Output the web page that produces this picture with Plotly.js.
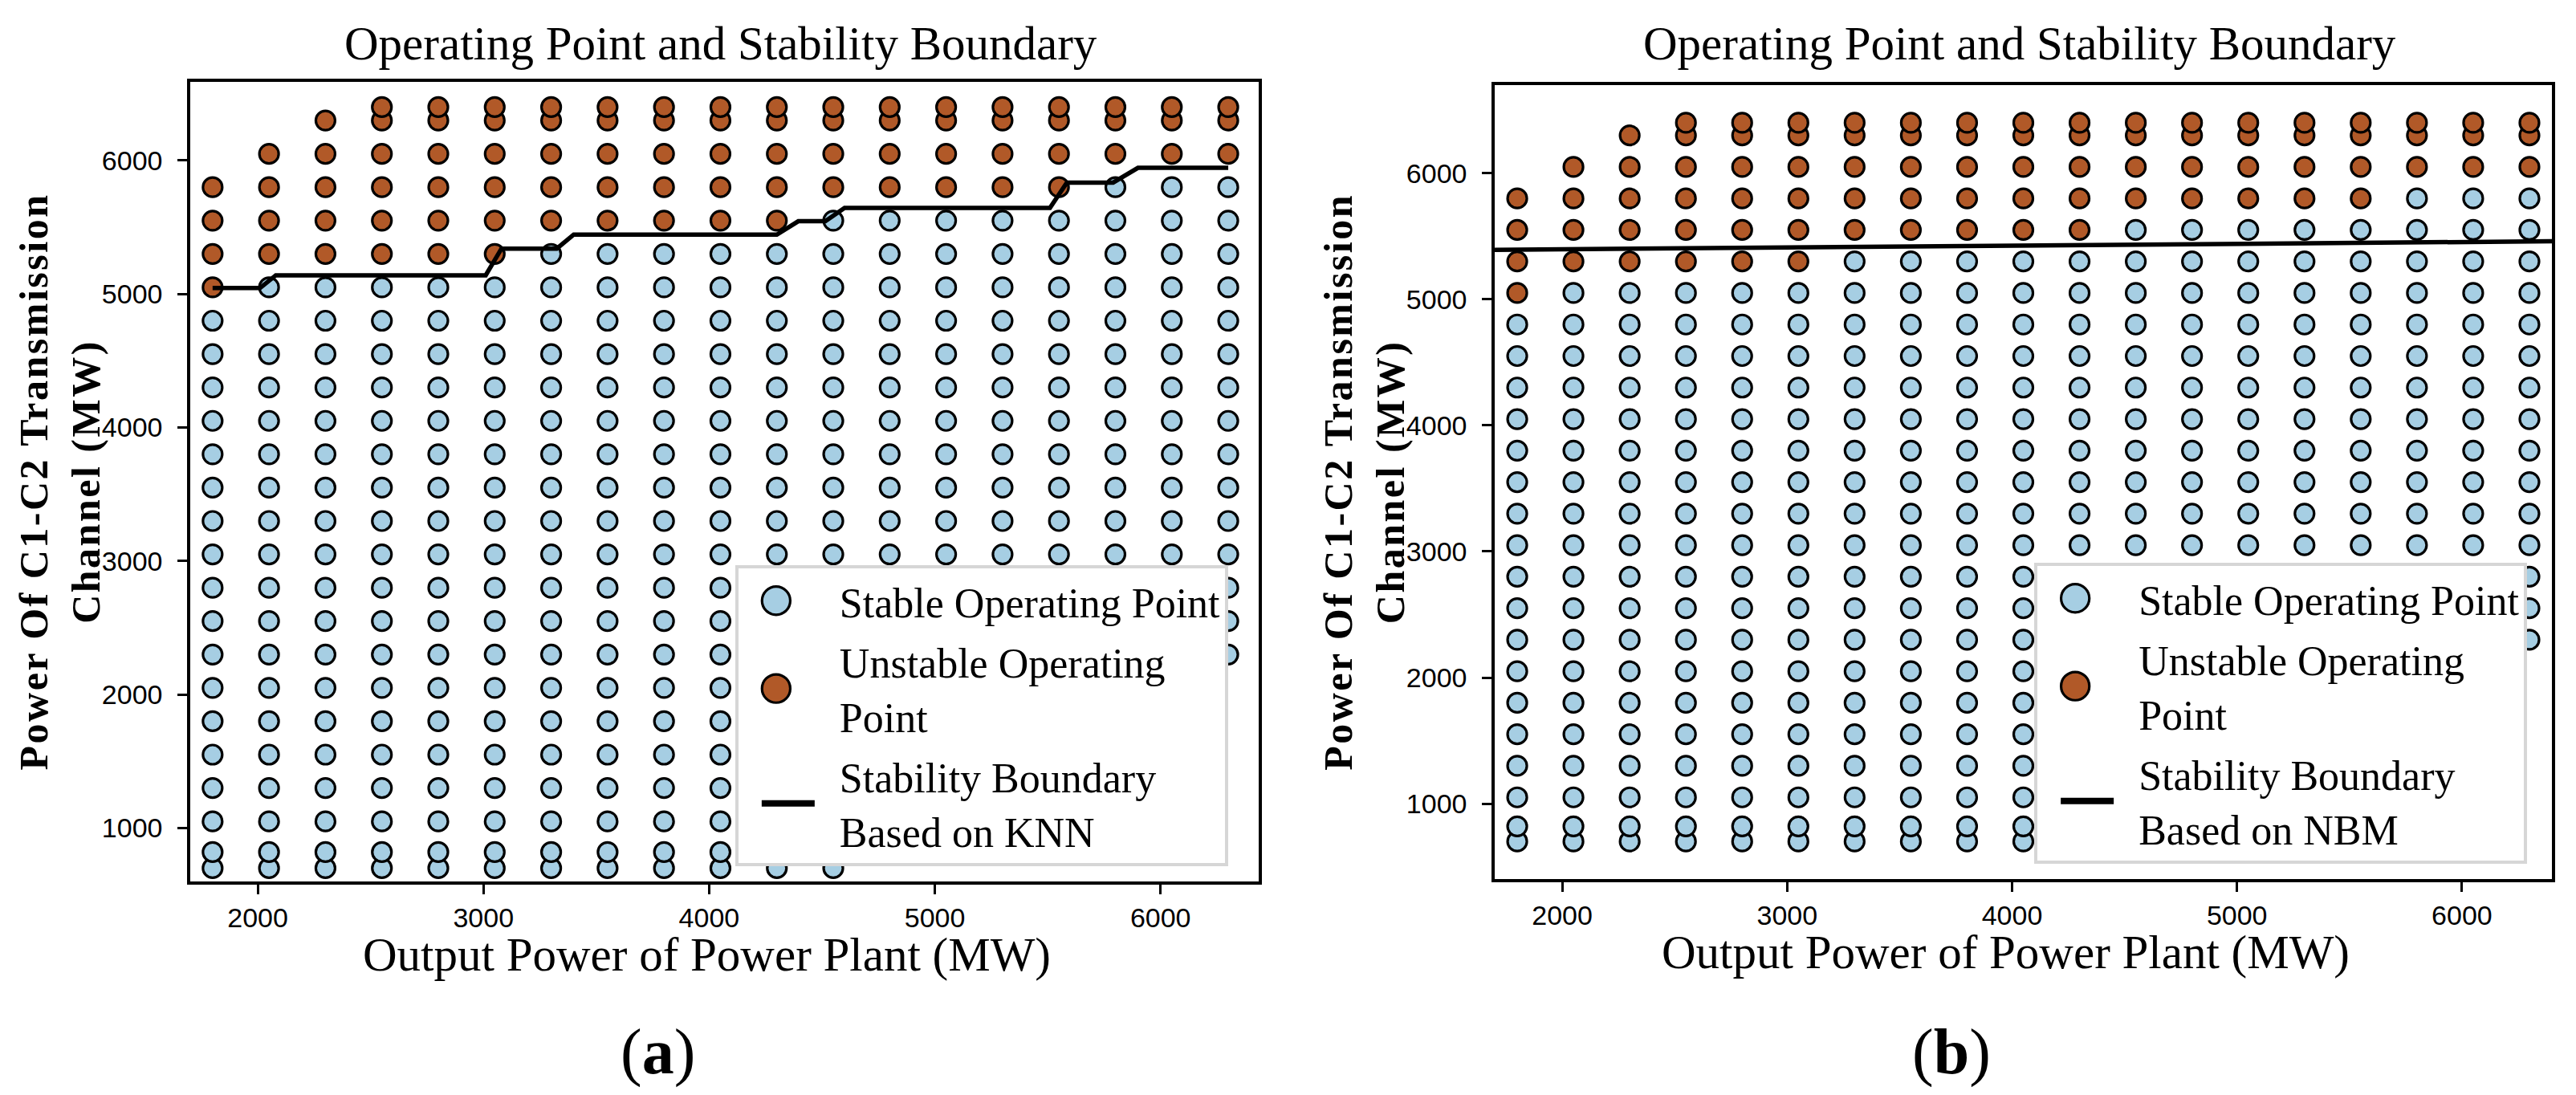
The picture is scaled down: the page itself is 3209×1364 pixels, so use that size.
<!DOCTYPE html>
<html><head><meta charset="utf-8">
<script src="https://cdn.plot.ly/plotly-3.0.1.min.js"></script>
<style>
html,body{margin:0;padding:0;background:#fff;}
#chart{width:3209px;height:1364px;}
.ytitle,.y2title{letter-spacing:2.5px;}
</style></head><body><div id="chart"></div>
<script>
// Operating grid: plant output columns and channel-power rows (MW)
const xCols = [1800, 2050, 2300, 2550, 2800, 3050, 3300, 3550, 3800, 4050, 4300, 4550, 4800, 5050, 5300, 5550, 5800, 6050, 6300];
const yRows = [700, 820, 1050, 1300, 1550, 1800, 2050, 2300, 2550, 2800, 3050, 3300, 3550, 3800, 4050, 4300, 4550, 4800, 5050, 5300, 5550, 5800, 6050, 6300, 6400];
// lowest / highest channel power sampled in each column
const colMinY = [700, 700, 700, 700, 700, 700, 700, 700, 700, 700, 700, 700, 820, 1050, 1300, 1550, 1800, 2050, 2300];
const colMaxY = [5800, 6050, 6300, 6400, 6400, 6400, 6400, 6400, 6400, 6400, 6400, 6400, 6400, 6400, 6400, 6400, 6400, 6400, 6400];
// lowest unstable channel power in each column
const unstableFromY = [5050, 5300, 5300, 5300, 5300, 5300, 5550, 5550, 5550, 5550, 5550, 5800, 5800, 5800, 5800, 5800, 6050, 6050, 6050];
// KNN stability boundary (staircase)
const knnX = [1800, 2010, 2080, 3010, 3080, 3325, 3400, 4300, 4395, 4515, 4600, 5510, 5585, 5790, 5900, 6300];
const knnY = [5045, 5045, 5140, 5140, 5340, 5340, 5445, 5445, 5545, 5545, 5645, 5645, 5835, 5835, 5945, 5945];
// NBM stability boundary (straight line)
const nbmX = [1700, 6400];
const nbmY = [5392, 5460];

const stableName = 'Stable Operating Point';
const unstableName = 'Unstable Operating<br>Point';
const knnName = 'Stability Boundary<br>Based on KNN';
const nbmName = 'Stability Boundary<br>Based on NBM';
const titleText = 'Operating Point and Stability Boundary';
const xTitle = 'Output Power of Power Plant (MW)';
const yTitle = 'Power Of C1-C2 Transmission<br>Channel (MW)';

const COL_STABLE = '#a6cee3', COL_UNSTABLE = '#b15928';

function splitPoints(){
  const s = {x:[], y:[]}, u = {x:[], y:[]};
  xCols.forEach((x, i) => {
    yRows.forEach(y => {
      if (y < colMinY[i] || y > colMaxY[i]) return;
      if (y >= unstableFromY[i]) { u.x.push(x); u.y.push(y); }
      else { s.x.push(x); s.y.push(y); }
    });
  });
  return {s, u};
}
const pts = splitPoints();

function markerTrace(p, name, color, xa, ya, lg, grp){
  return {type:'scatter', mode:'markers', x:p.x, y:p.y, name:name, xaxis:xa, yaxis:ya, legend:lg, legendgroup:grp,
    marker:{size:24, color:color, line:{color:'#000', width:3.2}}, hoverinfo:'x+y'};
}
function lineTrace(x, y, name, xa, ya, lg, grp){
  return {type:'scatter', mode:'lines', x:x, y:y, name:name, xaxis:xa, yaxis:ya, legend:lg, legendgroup:grp,
    line:{color:'#000', width:5.5}, hoverinfo:'x+y'};
}

const data = [
  markerTrace(pts.s, stableName, COL_STABLE, 'x', 'y', 'legend', 'a1'),
  markerTrace(pts.u, unstableName, COL_UNSTABLE, 'x', 'y', 'legend', 'a2'),
  lineTrace(knnX, knnY, knnName, 'x', 'y', 'legend', 'a3'),
  markerTrace(pts.s, stableName, COL_STABLE, 'x2', 'y2', 'legend2', 'b1'),
  markerTrace(pts.u, unstableName, COL_UNSTABLE, 'x2', 'y2', 'legend2', 'b2'),
  lineTrace(nbmX, nbmY, nbmName, 'x2', 'y2', 'legend2', 'b3')
];

const serif = 'Liberation Serif, Times New Roman, serif';
const sans = 'Liberation Sans, Arial, sans-serif';

function axisCommon(domain, range, anchor){
  return {domain:domain, range:range, anchor:anchor, showgrid:false, zeroline:false,
    showline:true, mirror:true, linecolor:'#000', linewidth:3.5,
    ticks:'outside', ticklen:12, tickwidth:3, tickcolor:'#000', dtick:1000, tick0:0,
    tickfont:{family:sans, size:34, color:'#000'}, automargin:false};
}
function xAxis(domain, range, anchor){
  const a = axisCommon(domain, range, anchor);
  a.ticklabelstandoff = 0;
  a.title = {text:xTitle, font:{family:serif, size:59, color:'#000'}, standoff:0};
  return a;
}
function yAxis(domain, range, anchor){
  const a = axisCommon(domain, range, anchor);
  a.ticklabelstandoff = 12;
  a.title = {text:yTitle, font:{family:serif, size:50, color:'#000', weight:'bold'}, standoff:0};
  return a;
}
function legendCfg(x, y){
  return {x:x, y:y, xanchor:'left', yanchor:'top', xref:'paper', yref:'paper',
    bgcolor:'#fff', bordercolor:'#d6d6d6', borderwidth:4, tracegroupgap:5,
    font:{family:serif, size:52, color:'#000'}, itemwidth:116, valign:'middle'};
}

const layout = {
  width:3209, height:1364, margin:{l:0, r:0, t:0, b:0},
  paper_bgcolor:'#fff', plot_bgcolor:'#fff',
  font:{family:serif, color:'#000'},
  showlegend:true,
  xaxis: xAxis([0.07386, 0.48863], [1701, 6435], 'y'),
  yaxis: yAxis([0.19501, 0.92522], [600, 6589], 'x'),
  xaxis2: xAxis([0.58025, 0.99065], [1700, 6400], 'y2'),
  yaxis2: yAxis([0.19721, 0.92243], [402, 6700], 'x2'),
  legend: legendCfg(0.2854, 0.4839),
  legend2: legendCfg(0.7897, 0.4861),
  annotations: [
    {text:titleText, xref:'paper', yref:'paper', x:0.2798, y:0.9604, xanchor:'center', yanchor:'middle', showarrow:false, font:{family:serif, size:59, color:'#000'}},
    {text:titleText, xref:'paper', yref:'paper', x:0.7841, y:0.9604, xanchor:'center', yanchor:'middle', showarrow:false, font:{family:serif, size:59, color:'#000'}},
    {text:'(<b>a</b>)', xref:'paper', yref:'paper', x:0.2555, y:0.0389, xanchor:'center', yanchor:'middle', showarrow:false, font:{family:serif, size:80, color:'#000'}},
    {text:'(<b>b</b>)', xref:'paper', yref:'paper', x:0.7576, y:0.0389, xanchor:'center', yanchor:'middle', showarrow:false, font:{family:serif, size:80, color:'#000'}}
  ]
};

function nudge(el, dx, dy){
  const t = el.getAttribute('transform') || '';
  el.setAttribute('transform', 'translate(' + dx + ',' + dy + ') ' + t);
}

Plotly.newPlot('chart', data, layout, {displayModeBar:false}).then(gd => {
  // enlarge legend marker symbols like the reference
  gd.querySelectorAll('.infolayer path.scatterpts').forEach(p => {
    const t = p.getAttribute('transform') || '';
    p.setAttribute('transform', 'translate(-16,0) ' + t + ' scale(2.2)');
    p.style.vectorEffect = 'non-scaling-stroke';
  });
  // shorter, thicker legend line symbol
  gd.querySelectorAll('.infolayer path.js-line').forEach(p => {
    p.setAttribute('d', 'M29,0h66');
    p.style.strokeWidth = '8px';
  });
  // nudge axis titles to the reference placement
  gd.querySelectorAll('text.ytitle, text.y2title').forEach(t => nudge(t, 13, 0));
  gd.querySelectorAll('text.xtitle, text.x2title').forEach(t => nudge(t, -22, -6));
});
</script></body></html>
